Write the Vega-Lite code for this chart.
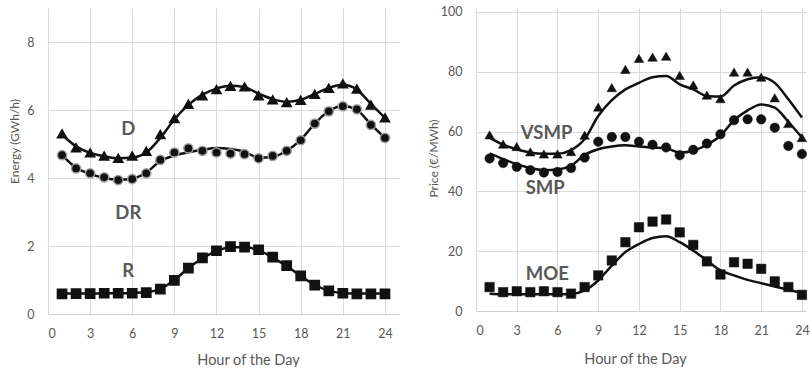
{
  "$schema": "https://vega.github.io/schema/vega-lite/v6.json",
  "padding": {"left": 8, "top": 5, "right": 0, "bottom": 0},
  "background": "white",
  "bounds": "flush",
  "spacing": 77,
  "config": {
    "view": {"stroke": null},
    "font": "Lato",
    "axis": {
      "labelFont": "Lato",
      "labelFontSize": 12.5,
      "labelColor": "#595959",
      "titleFont": "Lato",
      "titleFontSize": 14.5,
      "titleFontWeight": "normal",
      "titleColor": "#595959",
      "gridColor": "#d9d9d9",
      "gridWidth": 1,
      "ticks": false,
      "tickSize": 0,
      "domainColor": "#d0d0d0",
      "domainWidth": 1
    }
  },
  "datasets": {
    "energy": [
      {"hour": 1, "series": "D", "actual": 5.3, "model": 5.28},
      {"hour": 2, "series": "D", "actual": 4.89, "model": 4.93},
      {"hour": 3, "series": "D", "actual": 4.74, "model": 4.74},
      {"hour": 4, "series": "D", "actual": 4.65, "model": 4.64},
      {"hour": 5, "series": "D", "actual": 4.58, "model": 4.58},
      {"hour": 6, "series": "D", "actual": 4.65, "model": 4.6},
      {"hour": 7, "series": "D", "actual": 4.79, "model": 4.75},
      {"hour": 8, "series": "D", "actual": 5.28, "model": 5.18},
      {"hour": 9, "series": "D", "actual": 5.75, "model": 5.72},
      {"hour": 10, "series": "D", "actual": 6.17, "model": 6.15},
      {"hour": 11, "series": "D", "actual": 6.42, "model": 6.45},
      {"hour": 12, "series": "D", "actual": 6.6, "model": 6.63},
      {"hour": 13, "series": "D", "actual": 6.7, "model": 6.71},
      {"hour": 14, "series": "D", "actual": 6.68, "model": 6.67},
      {"hour": 15, "series": "D", "actual": 6.42, "model": 6.48},
      {"hour": 16, "series": "D", "actual": 6.3, "model": 6.32},
      {"hour": 17, "series": "D", "actual": 6.22, "model": 6.24},
      {"hour": 18, "series": "D", "actual": 6.29, "model": 6.3},
      {"hour": 19, "series": "D", "actual": 6.46, "model": 6.47},
      {"hour": 20, "series": "D", "actual": 6.64, "model": 6.65},
      {"hour": 21, "series": "D", "actual": 6.77, "model": 6.74},
      {"hour": 22, "series": "D", "actual": 6.62, "model": 6.6},
      {"hour": 23, "series": "D", "actual": 6.15, "model": 6.18},
      {"hour": 24, "series": "D", "actual": 5.77, "model": 5.77},
      {"hour": 1, "series": "DR", "actual": 4.67, "model": 4.67},
      {"hour": 2, "series": "DR", "actual": 4.28, "model": 4.3},
      {"hour": 3, "series": "DR", "actual": 4.14, "model": 4.12},
      {"hour": 4, "series": "DR", "actual": 4.02, "model": 4.0},
      {"hour": 5, "series": "DR", "actual": 3.94, "model": 3.95},
      {"hour": 6, "series": "DR", "actual": 3.97, "model": 3.98},
      {"hour": 7, "series": "DR", "actual": 4.14, "model": 4.16},
      {"hour": 8, "series": "DR", "actual": 4.53, "model": 4.5},
      {"hour": 9, "series": "DR", "actual": 4.75, "model": 4.66},
      {"hour": 10, "series": "DR", "actual": 4.87, "model": 4.76},
      {"hour": 11, "series": "DR", "actual": 4.8, "model": 4.83},
      {"hour": 12, "series": "DR", "actual": 4.75, "model": 4.88},
      {"hour": 13, "series": "DR", "actual": 4.72, "model": 4.85},
      {"hour": 14, "series": "DR", "actual": 4.7, "model": 4.77},
      {"hour": 15, "series": "DR", "actual": 4.58, "model": 4.6},
      {"hour": 16, "series": "DR", "actual": 4.65, "model": 4.62},
      {"hour": 17, "series": "DR", "actual": 4.8, "model": 4.8},
      {"hour": 18, "series": "DR", "actual": 5.11, "model": 5.12},
      {"hour": 19, "series": "DR", "actual": 5.6, "model": 5.6},
      {"hour": 20, "series": "DR", "actual": 5.96, "model": 5.97},
      {"hour": 21, "series": "DR", "actual": 6.11, "model": 6.12},
      {"hour": 22, "series": "DR", "actual": 6.02, "model": 6.0},
      {"hour": 23, "series": "DR", "actual": 5.56, "model": 5.58},
      {"hour": 24, "series": "DR", "actual": 5.18, "model": 5.18},
      {"hour": 1, "series": "R", "actual": 0.59, "model": 0.6},
      {"hour": 2, "series": "R", "actual": 0.6, "model": 0.6},
      {"hour": 3, "series": "R", "actual": 0.6, "model": 0.6},
      {"hour": 4, "series": "R", "actual": 0.61, "model": 0.61},
      {"hour": 5, "series": "R", "actual": 0.61, "model": 0.61},
      {"hour": 6, "series": "R", "actual": 0.61, "model": 0.62},
      {"hour": 7, "series": "R", "actual": 0.63, "model": 0.64},
      {"hour": 8, "series": "R", "actual": 0.73, "model": 0.74},
      {"hour": 9, "series": "R", "actual": 0.99, "model": 1.0},
      {"hour": 10, "series": "R", "actual": 1.35, "model": 1.35},
      {"hour": 11, "series": "R", "actual": 1.65, "model": 1.64},
      {"hour": 12, "series": "R", "actual": 1.86, "model": 1.85},
      {"hour": 13, "series": "R", "actual": 1.98, "model": 1.96},
      {"hour": 14, "series": "R", "actual": 1.97, "model": 1.96},
      {"hour": 15, "series": "R", "actual": 1.89, "model": 1.88},
      {"hour": 16, "series": "R", "actual": 1.67, "model": 1.66},
      {"hour": 17, "series": "R", "actual": 1.42, "model": 1.41},
      {"hour": 18, "series": "R", "actual": 1.12, "model": 1.12},
      {"hour": 19, "series": "R", "actual": 0.85, "model": 0.86},
      {"hour": 20, "series": "R", "actual": 0.68, "model": 0.68},
      {"hour": 21, "series": "R", "actual": 0.61, "model": 0.62},
      {"hour": 22, "series": "R", "actual": 0.59, "model": 0.6},
      {"hour": 23, "series": "R", "actual": 0.59, "model": 0.6},
      {"hour": 24, "series": "R", "actual": 0.59, "model": 0.6}
    ],
    "price": [
      {"hour": 1, "series": "VSMP", "actual": 58.9, "model": 58.0},
      {"hour": 2, "series": "VSMP", "actual": 55.8, "model": 55.6},
      {"hour": 3, "series": "VSMP", "actual": 55.0, "model": 54.1},
      {"hour": 4, "series": "VSMP", "actual": 53.2, "model": 53.0},
      {"hour": 5, "series": "VSMP", "actual": 52.5, "model": 52.6},
      {"hour": 6, "series": "VSMP", "actual": 52.5, "model": 52.6},
      {"hour": 7, "series": "VSMP", "actual": 53.3, "model": 53.8},
      {"hour": 8, "series": "VSMP", "actual": 58.8, "model": 57.5},
      {"hour": 9, "series": "VSMP", "actual": 68.2, "model": 65.2},
      {"hour": 10, "series": "VSMP", "actual": 74.7, "model": 70.5},
      {"hour": 11, "series": "VSMP", "actual": 80.8, "model": 74.1},
      {"hour": 12, "series": "VSMP", "actual": 84.5, "model": 76.3},
      {"hour": 13, "series": "VSMP", "actual": 84.9, "model": 78.2},
      {"hour": 14, "series": "VSMP", "actual": 85.2, "model": 78.6},
      {"hour": 15, "series": "VSMP", "actual": 78.8, "model": 75.8},
      {"hour": 16, "series": "VSMP", "actual": 75.6, "model": 74.1},
      {"hour": 17, "series": "VSMP", "actual": 72.2, "model": 71.9},
      {"hour": 18, "series": "VSMP", "actual": 71.0, "model": 71.7},
      {"hour": 19, "series": "VSMP", "actual": 79.9, "model": 75.4},
      {"hour": 20, "series": "VSMP", "actual": 79.9, "model": 77.5},
      {"hour": 21, "series": "VSMP", "actual": 78.2, "model": 78.2},
      {"hour": 22, "series": "VSMP", "actual": 71.3, "model": 76.3},
      {"hour": 23, "series": "VSMP", "actual": 62.7, "model": 70.8},
      {"hour": 24, "series": "VSMP", "actual": 58.0, "model": 64.7},
      {"hour": 1, "series": "SMP", "actual": 51.0, "model": 52.7},
      {"hour": 2, "series": "SMP", "actual": 49.5, "model": 50.8},
      {"hour": 3, "series": "SMP", "actual": 48.2, "model": 49.1},
      {"hour": 4, "series": "SMP", "actual": 47.1, "model": 47.8},
      {"hour": 5, "series": "SMP", "actual": 46.3, "model": 47.1},
      {"hour": 6, "series": "SMP", "actual": 46.5, "model": 47.3},
      {"hour": 7, "series": "SMP", "actual": 47.8, "model": 48.6},
      {"hour": 8, "series": "SMP", "actual": 51.3, "model": 52.2},
      {"hour": 9, "series": "SMP", "actual": 56.6, "model": 54.1},
      {"hour": 10, "series": "SMP", "actual": 58.2, "model": 55.0},
      {"hour": 11, "series": "SMP", "actual": 58.2, "model": 55.4},
      {"hour": 12, "series": "SMP", "actual": 56.6, "model": 55.0},
      {"hour": 13, "series": "SMP", "actual": 55.6, "model": 54.7},
      {"hour": 14, "series": "SMP", "actual": 54.7, "model": 54.4},
      {"hour": 15, "series": "SMP", "actual": 52.1, "model": 53.0},
      {"hour": 16, "series": "SMP", "actual": 53.9, "model": 53.6},
      {"hour": 17, "series": "SMP", "actual": 56.0, "model": 55.6},
      {"hour": 18, "series": "SMP", "actual": 59.1, "model": 58.6},
      {"hour": 19, "series": "SMP", "actual": 63.8, "model": 63.8},
      {"hour": 20, "series": "SMP", "actual": 64.1, "model": 67.1},
      {"hour": 21, "series": "SMP", "actual": 64.1, "model": 69.1},
      {"hour": 22, "series": "SMP", "actual": 61.3, "model": 68.0},
      {"hour": 23, "series": "SMP", "actual": 55.2, "model": 63.3},
      {"hour": 24, "series": "SMP", "actual": 52.5, "model": 58.0},
      {"hour": 1, "series": "MOE", "actual": 8.0, "model": 5.8},
      {"hour": 2, "series": "MOE", "actual": 6.3, "model": 5.6},
      {"hour": 3, "series": "MOE", "actual": 6.6, "model": 5.6},
      {"hour": 4, "series": "MOE", "actual": 6.3, "model": 5.6},
      {"hour": 5, "series": "MOE", "actual": 6.6, "model": 5.6},
      {"hour": 6, "series": "MOE", "actual": 6.3, "model": 5.6},
      {"hour": 7, "series": "MOE", "actual": 5.8, "model": 5.7},
      {"hour": 8, "series": "MOE", "actual": 8.0, "model": 6.9},
      {"hour": 9, "series": "MOE", "actual": 11.9, "model": 10.2},
      {"hour": 10, "series": "MOE", "actual": 16.9, "model": 15.2},
      {"hour": 11, "series": "MOE", "actual": 23.0, "model": 19.7},
      {"hour": 12, "series": "MOE", "actual": 28.0, "model": 22.4},
      {"hour": 13, "series": "MOE", "actual": 29.9, "model": 24.4},
      {"hour": 14, "series": "MOE", "actual": 30.6, "model": 25.0},
      {"hour": 15, "series": "MOE", "actual": 26.3, "model": 23.0},
      {"hour": 16, "series": "MOE", "actual": 22.1, "model": 20.2},
      {"hour": 17, "series": "MOE", "actual": 16.6, "model": 16.9},
      {"hour": 18, "series": "MOE", "actual": 12.2, "model": 13.6},
      {"hour": 19, "series": "MOE", "actual": 16.3, "model": 11.9},
      {"hour": 20, "series": "MOE", "actual": 15.8, "model": 10.4},
      {"hour": 21, "series": "MOE", "actual": 14.1, "model": 9.3},
      {"hour": 22, "series": "MOE", "actual": 9.9, "model": 8.2},
      {"hour": 23, "series": "MOE", "actual": 8.0, "model": 7.1},
      {"hour": 24, "series": "MOE", "actual": 5.4, "model": 6.0}
    ],
    "elabels": [
      {"hour": 5.72, "value": 5.45, "label": "D"},
      {"hour": 5.72, "value": 2.97, "label": "DR"},
      {"hour": 5.72, "value": 1.27, "label": "R"}
    ],
    "plabels": [
      {"hour": 5.2, "value": 59.5, "label": "VSMP"},
      {"hour": 5.1, "value": 41.2, "label": "SMP"},
      {"hour": 5.25, "value": 12.3, "label": "MOE"}
    ]
  },
  "resolve": {"scale": {"x": "independent", "y": "independent", "shape": "independent", "stroke": "independent"}},
  "hconcat": [
    {
      "width": 351,
      "height": 306,
      "layer": [
        {
          "data": {"name": "energy"},
          "mark": {"type": "line", "interpolate": "monotone", "color": "#111111", "strokeWidth": 2.5},
          "encoding": {
            "x": {"field": "hour", "type": "quantitative", "scale": {"domain": [0, 25], "nice": false},
              "axis": {"values": [0, 3, 6, 9, 12, 15, 18, 21, 24], "title": "Hour of the Day", "labelPadding": 13, "titlePadding": 14, "titleX": 200, "titleAlign": "center"}},
            "y": {"field": "model", "type": "quantitative", "scale": {"domain": [0, 9], "nice": false},
              "axis": {"values": [0, 2, 4, 6, 8], "title": "Energy (GWh/h)", "titleFontSize": 12, "domain": false, "labelPadding": 14, "titlePadding": 5, "titleY": 133}},
            "detail": {"field": "series"}
          }
        },
        {
          "data": {"name": "energy"},
          "mark": {"type": "point", "filled": true, "fill": "#111111", "strokeWidth": 1.5, "opacity": 1, "size": 85},
          "encoding": {
            "x": {"field": "hour", "type": "quantitative"},
            "y": {"field": "actual", "type": "quantitative"},
            "shape": {"field": "series", "type": "nominal", "scale": {"domain": ["D", "DR", "R"], "range": ["triangle-up", "circle", "square"]}, "legend": null},
            "stroke": {"field": "series", "type": "nominal", "scale": {"domain": ["D", "DR", "R"], "range": ["#111111", "#a0a0a0", "#111111"]}, "legend": null}
          }
        },
        {
          "data": {"name": "elabels"},
          "mark": {"type": "text", "fontSize": 18.5, "fontWeight": "bold", "color": "#595959", "font": "Lato", "align": "center", "baseline": "middle"},
          "encoding": {
            "x": {"field": "hour", "type": "quantitative"},
            "y": {"field": "value", "type": "quantitative"},
            "text": {"field": "label", "type": "nominal"}
          }
        }
      ]
    },
    {
      "width": 330,
      "height": 303,
      "layer": [
        {
          "data": {"name": "price"},
          "mark": {"type": "line", "interpolate": "monotone", "color": "#111111", "strokeWidth": 2.5},
          "encoding": {
            "x": {"field": "hour", "type": "quantitative", "scale": {"domain": [0, 24.3], "nice": false},
              "axis": {"values": [0, 3, 6, 9, 12, 15, 18, 21, 24], "title": "Hour of the Day", "labelPadding": 13, "titlePadding": 16, "titleX": 159, "titleAlign": "center"}},
            "y": {"field": "model", "type": "quantitative", "scale": {"domain": [0, 101.33], "nice": false},
              "axis": {"values": [0, 20, 40, 60, 80, 100], "title": "Price (€/MWh)", "titleFontSize": 12, "domain": false, "labelPadding": 14, "titlePadding": 0, "titleY": 150}},
            "detail": {"field": "series"}
          }
        },
        {
          "data": {"name": "price"},
          "mark": {"type": "point", "filled": true, "fill": "#111111", "stroke": "#111111", "strokeWidth": 0.5, "opacity": 1, "size": 90},
          "encoding": {
            "x": {"field": "hour", "type": "quantitative"},
            "y": {"field": "actual", "type": "quantitative"},
            "shape": {"field": "series", "type": "nominal", "scale": {"domain": ["VSMP", "SMP", "MOE"], "range": ["triangle-up", "circle", "square"]}, "legend": null}
          }
        },
        {
          "data": {"name": "plabels"},
          "mark": {"type": "text", "fontSize": 18.5, "fontWeight": "bold", "color": "#595959", "font": "Lato", "align": "center", "baseline": "middle"},
          "encoding": {
            "x": {"field": "hour", "type": "quantitative"},
            "y": {"field": "value", "type": "quantitative"},
            "text": {"field": "label", "type": "nominal"}
          }
        }
      ]
    }
  ]
}
